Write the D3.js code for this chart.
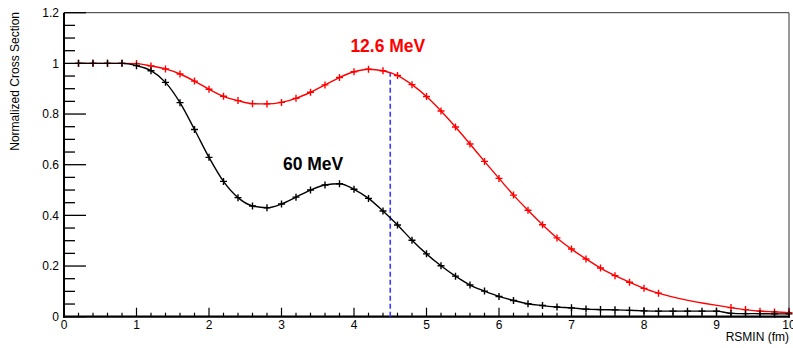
<!DOCTYPE html>
<html><head><meta charset="utf-8">
<script src="https://cdn.jsdelivr.net/npm/d3@7"></script>
<style>body{margin:0;background:#fff}svg{display:block}text{font-family:"Liberation Sans",Arial,sans-serif}</style>
</head><body><svg id="c" width="793" height="348"></svg>
<script>
const rsmin = [0.2,0.4,0.6,0.8,1.0,1.2,1.4,1.6,1.8,2.0,2.2,2.4,2.6,2.8,3.0,3.2,3.4,3.6,3.8,4.0,4.2,4.4,4.6,4.8,5.0,5.2,5.4,5.6,5.8,6.0,6.2,6.4,6.6,6.8,7.0,7.2,7.4,7.6,7.8,8.0,8.2,8.4,8.6,8.8,9.0,9.2,9.4,9.6,9.8,10.0];
const rsminRed = [0.2,0.4,0.6,0.8,1.0,1.2,1.4,1.6,1.8,2.0,2.2,2.4,2.6,2.8,3.0,3.2,3.4,3.6,3.8,4.0,4.2,4.4,4.6,4.8,5.0,5.2,5.4,5.6,5.8,6.0,6.2,6.4,6.6,6.8,7.0,7.2,7.4,7.6,7.8,8.0,8.2,9.2,9.4,9.6,9.8,10.0];
const xs126 = [1.0,1.0,1.0,1.0,0.999,0.990,0.978,0.958,0.930,0.898,0.870,0.853,0.841,0.840,0.846,0.862,0.886,0.915,0.944,0.967,0.977,0.971,0.952,0.916,0.869,0.812,0.749,0.682,0.613,0.546,0.480,0.420,0.363,0.311,0.267,0.228,0.192,0.162,0.136,0.112,0.093,0.036,0.028,0.022,0.019,0.016];
const xs60 = [1.0,1.0,1.0,1.0,0.991,0.971,0.925,0.845,0.739,0.629,0.534,0.470,0.437,0.430,0.445,0.472,0.500,0.520,0.525,0.503,0.467,0.417,0.362,0.302,0.248,0.201,0.160,0.125,0.101,0.080,0.064,0.051,0.044,0.038,0.035,0.030,0.028,0.027,0.025,0.023,0.022,0.022,0.022,0.022,0.022,0.013,0.012,0.012,0.011,0.011];
const xTicks = [0,1,2,3,4,5,6,7,8,9,10];
const yTicks = [0,0.2,0.4,0.6,0.8,1,1.2];
const yTickLabels = ["0","0.2","0.4","0.6","0.8","1","1.2"];
const markerX = 4.5, markerTop = 0.965;
const labels = [{text:"12.6 MeV", x:3.95, y:1.045, color:"#ff0000"},{text:"60 MeV", x:3.02, y:0.579, color:"#000000"}];

const svg = d3.select("#c");
const L=64, R=789, T=12.7, B=316.7;
const x = d3.scaleLinear().domain([0,10]).range([L,R]);
const y = d3.scaleLinear().domain([0,1.2]).range([B,T]);

// frame
svg.append("line").attr("x1",L).attr("x2",R).attr("y1",T).attr("y2",T).attr("stroke","#333").attr("stroke-width",1);
svg.append("line").attr("x1",R).attr("x2",R).attr("y1",T).attr("y2",B).attr("stroke","#333").attr("stroke-width",1);

// axes ticks
const yMinor = d3.range(0,1.2001,0.05);
const ga = svg.append("g");
yMinor.forEach(v=>{
  const major = Math.abs(v/0.2 - Math.round(v/0.2))<1e-6;
  ga.append("line").attr("x1",L).attr("x2",L+(major?22:11)).attr("y1",y(v)).attr("y2",y(v)).attr("stroke","#000").attr("stroke-width",1.3);
});
const xMinor = d3.range(0,10.0001,0.2);
xMinor.forEach(v=>{
  const major = Math.abs(v - Math.round(v))<1e-6;
  ga.append("line").attr("x1",x(v)).attr("x2",x(v)).attr("y1",B).attr("y2",B-(major?9:4)).attr("stroke","#000").attr("stroke-width",1.2);
});
ga.append("line").attr("x1",L).attr("x2",L).attr("y1",T).attr("y2",B+1).attr("stroke","#000").attr("stroke-width",2);
ga.append("line").attr("x1",L-1).attr("x2",R+1).attr("y1",B).attr("y2",B).attr("stroke","#000").attr("stroke-width",2.2);

yTicks.forEach((v,i)=>{
  svg.append("text").attr("x",L-5).attr("y",y(v)+4.3).attr("text-anchor","end").attr("font-size",12).attr("fill","#000").text(yTickLabels[i]);
});
xTicks.forEach(v=>{
  svg.append("text").attr("x",x(v)).attr("y",329).attr("text-anchor","middle").attr("font-size",12).attr("fill","#000").text(v);
});
svg.append("text").attr("x",R).attr("y",340.5).attr("text-anchor","end").attr("font-size",12).attr("fill","#000").text("RSMIN (fm)");
svg.append("text").attr("transform","translate(19,12) rotate(-90)").attr("text-anchor","end").attr("font-size",12).attr("fill","#000").text("Normalized Cross Section");

// dashed marker line
svg.append("line").attr("x1",x(markerX)).attr("x2",x(markerX)).attr("y1",y(0)).attr("y2",y(markerTop)).attr("stroke","#3b3bff").attr("stroke-width",1.6).attr("stroke-dasharray","5,3");

const line = d3.line().x(d=>x(d[0])).y(d=>y(d[1])).curve(d3.curveMonotoneX);
function series(xv, yv, color){
  const pts = xv.map((v,i)=>[v,yv[i]]);
  svg.append("path").attr("d",line(pts)).attr("fill","none").attr("stroke",color).attr("stroke-width",1.4);
  const g = svg.append("g");
  pts.forEach(p=>{
    const cx=x(p[0]), cy=y(p[1]);
    g.append("path").attr("d",`M${cx-3.5},${cy}H${cx+3.5}M${cx},${cy-3.5}V${cy+3.5}`).attr("stroke",color).attr("stroke-width",1.4).attr("fill","none");
  });
}
series(rsminRed, xs126, "#ff0000");
series(rsmin, xs60, "#000000");

labels.forEach(l=>{
  svg.append("text").attr("x",x(l.x)).attr("y",y(l.y)).attr("font-size",17.5).attr("font-weight","bold").attr("fill",l.color).text(l.text);
});
</script></body></html>
